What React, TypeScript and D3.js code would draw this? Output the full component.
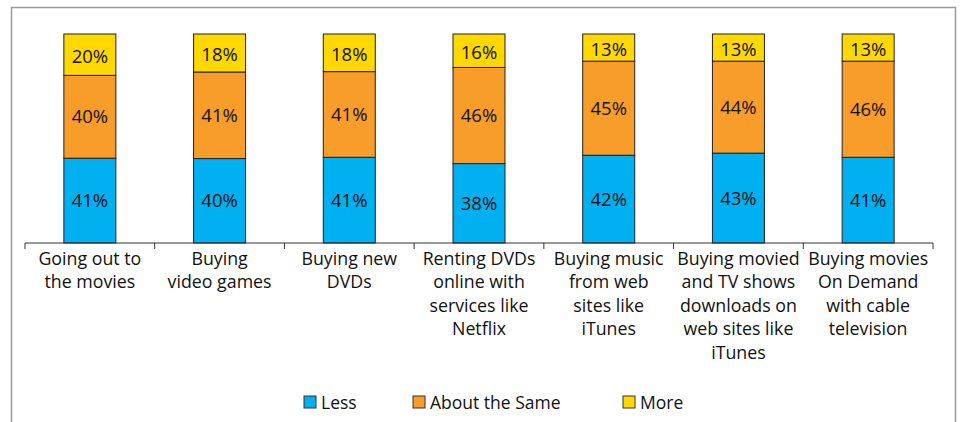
import React from "react";
import * as d3 from "d3";

const categories: string[][] = [
  ["Going out to", "the movies"],
  ["Buying", "video games"],
  ["Buying new", "DVDs"],
  ["Renting DVDs", "online with", "services like", "Netflix"],
  ["Buying music", "from web", "sites like", "iTunes"],
  ["Buying movied", "and TV shows", "downloads on", "web sites like", "iTunes"],
  ["Buying movies", "On Demand", "with cable", "television"],
];
const less = [41, 40, 41, 38, 42, 43, 41];
const same = [40, 41, 41, 46, 45, 44, 46];
const more = [20, 18, 18, 16, 13, 13, 13];

const seriesNames = ["Less", "About the Same", "More"];
const seriesColors = ["#00B0F0", "#F99D2A", "#FFD800"];

const W = 961;
const H = 422;
const FONT = "'Open Sans', 'Noto Sans', sans-serif";

export default function App() {
  const x = d3
    .scaleBand<number>()
    .domain(d3.range(categories.length))
    .range([25, 933])
    .paddingInner(0)
    .paddingOuter(0);
  const y = d3.scaleLinear().domain([0, 1]).range([243, 34]);
  const barW = 52;

  const rows = categories.map((_, i) => ({
    i,
    v0: less[i],
    v1: same[i],
    v2: more[i],
  }));
  const stack = d3
    .stack<any>()
    .keys(["v0", "v1", "v2"])
    .offset(d3.stackOffsetExpand);
  const stacked = stack(rows);
  const values = [less, same, more];

  const ticks = d3.range(categories.length + 1).map((k) =>
    k < categories.length ? (x(k) as number) : (x(categories.length - 1) as number) + x.bandwidth()
  );

  const legendX = [304, 413, 623];

  return (
    <svg width={W} height={H} style={{ position: "absolute", left: 0, top: 0 }} fontFamily={FONT}>
      <rect x={0} y={0} width={W} height={H} fill="#fff" />
      <path d="M11.5,430 V7.5 H955.5 V430" fill="none" stroke="#9a9a9a" strokeWidth={1.5} />
      {stacked.map((layer, s) => (
        <g key={s}>
          {layer.map((d, i) => {
            const cx = (x(i) as number) + x.bandwidth() / 2;
            const y0 = y(d[0]);
            const y1 = y(d[1]);
            return (
              <g key={i}>
                <rect
                  x={cx - barW / 2}
                  y={y1}
                  width={barW}
                  height={y0 - y1}
                  fill={seriesColors[s]}
                  stroke="#222"
                  strokeWidth={1}
                />
                <text
                  x={cx}
                  y={(y0 + y1) / 2 + (s === 2 ? 2 : 0)}
                  dy="0.35em"
                  textAnchor="middle"
                  fontSize={18.5}
                  fill="#111"
                >
                  {values[s][i]}%
                </text>
              </g>
            );
          })}
        </g>
      ))}
      <line x1={25} x2={933} y1={243} y2={243} stroke="#333" strokeWidth={1} />
      {ticks.map((t, k) => (
        <line key={k} x1={t} x2={t} y1={243} y2={249} stroke="#333" strokeWidth={1} />
      ))}
      {categories.map((lines, i) => {
        const cx = (x(i) as number) + x.bandwidth() / 2;
        return (
          <text key={i} textAnchor="middle" fontSize={17.8} fill="#111">
            {lines.map((l, j) => (
              <tspan key={j} x={cx} y={264.5 + j * 23.5}>
                {l}
              </tspan>
            ))}
          </text>
        );
      })}
      {seriesNames.map((n, s) => (
        <g key={n}>
          <rect x={legendX[s]} y={396} width={12} height={12} fill={seriesColors[s]} stroke="#333" strokeWidth={1} />
          <text x={legendX[s] + 17} y={408.5} fontSize={17.5} fill="#111">
            {n}
          </text>
        </g>
      ))}
    </svg>
  );
}
